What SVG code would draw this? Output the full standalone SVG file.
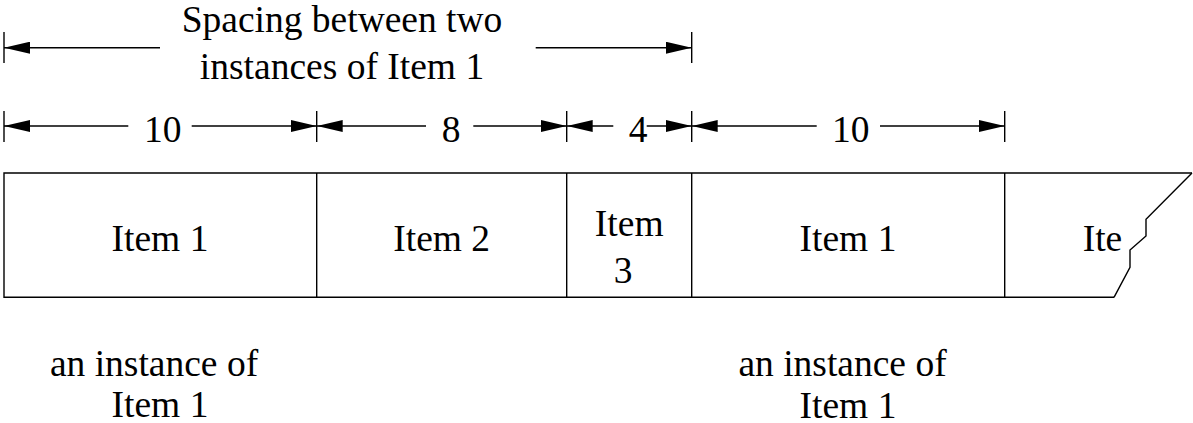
<svg xmlns="http://www.w3.org/2000/svg" width="1193" height="423" viewBox="0 0 1193 423">
<style>
  .ln { stroke: #000; stroke-width: 1.4; fill: none; }
  .dim { stroke: #000; stroke-width: 1.4; fill: none; marker-end: url(#arr); }
  .t { font-family: 'Liberation Serif', Tinos, 'Nimbus Roman', 'Times New Roman', 'DejaVu Serif', serif; font-size: 37.5px; fill: #000; text-anchor: middle; }
</style>
<defs>
  <marker id="arr" viewBox="0 0 26 12" refX="26" refY="6" markerWidth="26" markerHeight="12" markerUnits="userSpaceOnUse" orient="auto">
    <path d="M0,0 L26,6 L0,12 Z" fill="#000"/>
  </marker>
</defs>
<rect width="1193" height="423" fill="#fff"/>

<g id="connectors">
  <line class="ln" x1="4" y1="32" x2="4" y2="63"/>
  <line class="ln" x1="691.7" y1="32" x2="691.7" y2="63"/>
  <line class="dim" x1="160" y1="47.7" x2="4" y2="47.7"/>
  <line class="dim" x1="535.7" y1="47.7" x2="691.7" y2="47.7"/>
  <line class="ln" x1="4" y1="111" x2="4" y2="142"/>
  <line class="ln" x1="316.7" y1="111" x2="316.7" y2="142"/>
  <line class="ln" x1="566.7" y1="111" x2="566.7" y2="142"/>
  <line class="ln" x1="691.7" y1="111" x2="691.7" y2="142"/>
  <line class="ln" x1="1004.7" y1="111" x2="1004.7" y2="142"/>
  <line class="dim" x1="128.3" y1="126" x2="4" y2="126"/>
  <line class="dim" x1="191.7" y1="126" x2="316.7" y2="126"/>
  <line class="dim" x1="426" y1="126" x2="316.7" y2="126"/>
  <line class="dim" x1="473.3" y1="126" x2="566.7" y2="126"/>
  <line class="dim" x1="613.3" y1="126" x2="566.7" y2="126"/>
  <line class="dim" x1="646.7" y1="126" x2="691.7" y2="126"/>
  <line class="dim" x1="816.7" y1="126" x2="691.7" y2="126"/>
  <line class="dim" x1="880" y1="126" x2="1004.7" y2="126"/>
</g>

<g id="dimension-labels">
  <text class="t" x="342" y="31.7">Spacing between two</text>
  <text class="t" x="342" y="79">instances of Item 1</text>
  <text class="t" x="162.7" y="141.5">10</text>
  <text class="t" x="451" y="141.5">8</text>
  <text class="t" x="638" y="141.5">4</text>
  <text class="t" x="850.7" y="141.5">10</text>
</g>

<g id="strip">
  <path class="ln" d="M1192,173 L4,173 L4,297.3 L1114,297.3"/>
  <path class="ln" d="M1192,173 L1146,219.3 L1146,236 L1130,250 L1130,267.3 L1114,297.3"/>
</g>

<g id="item1-a">
  <text class="t" x="160" y="251">Item 1</text>
</g>
<g id="item2">
  <line class="ln" x1="316.7" y1="173" x2="316.7" y2="297.3"/>
  <text class="t" x="441.7" y="251">Item 2</text>
</g>
<g id="item3">
  <line class="ln" x1="566.7" y1="173" x2="566.7" y2="297.3"/>
  <text class="t" x="629.2" y="236">Item</text>
  <text class="t" x="623" y="282.7">3</text>
</g>
<g id="item1-b">
  <line class="ln" x1="691.7" y1="173" x2="691.7" y2="297.3"/>
  <text class="t" x="848" y="251">Item 1</text>
</g>
<g id="item-cut">
  <line class="ln" x1="1004.7" y1="173" x2="1004.7" y2="297.3"/>
  <text class="t" x="1082.7" y="251" style="text-anchor:start">Ite</text>
</g>

<g id="caption-left">
  <text class="t" x="154" y="376">an instance of</text>
  <text class="t" x="160" y="417.3">Item 1</text>
</g>
<g id="caption-right">
  <text class="t" x="842.5" y="375.5">an instance of</text>
  <text class="t" x="848" y="417.5">Item 1</text>
</g>
</svg>
